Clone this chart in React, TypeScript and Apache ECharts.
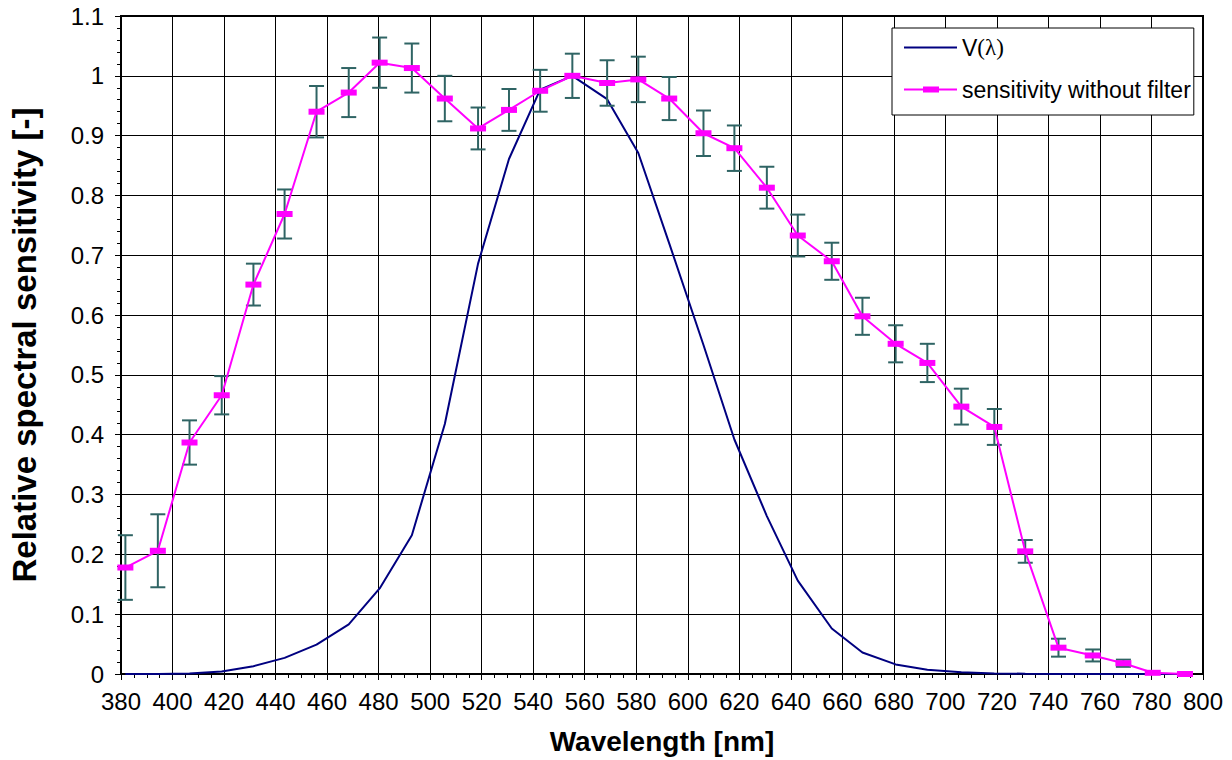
import React, { useEffect, useRef } from "react";
import * as echarts from "echarts";

const wavelengths = [381.7, 394.3, 406.6, 419.1, 431.4, 443.5, 455.9, 468.4, 480.4, 492.9, 505.7, 518.6, 530.6, 542.7, 555.2, 568.7, 580.8, 592.8, 606.1, 618.1, 630.7, 642.7, 655.9, 667.8, 680.7, 693.0, 706.2, 719.0, 731.0, 743.9, 757.2, 769.1, 780.5, 793.0];
const sensitivity = [0.178, 0.206, 0.387, 0.466, 0.651, 0.769, 0.940, 0.972, 1.022, 1.013, 0.962, 0.912, 0.943, 0.975, 1.0, 0.988, 0.994, 0.962, 0.904, 0.879, 0.813, 0.733, 0.690, 0.598, 0.552, 0.520, 0.447, 0.413, 0.205, 0.044, 0.031, 0.018, 0.002, 0.0];
const sensitivityError = [0.054, 0.061, 0.037, 0.032, 0.035, 0.041, 0.043, 0.041, 0.042, 0.041, 0.038, 0.035, 0.035, 0.035, 0.037, 0.038, 0.038, 0.036, 0.038, 0.038, 0.035, 0.035, 0.031, 0.031, 0.031, 0.032, 0.030, 0.030, 0.019, 0.015, 0.010, 0.006, 0, 0];
const vLambda = [0.0001, 0.0002, 0.0008, 0.004, 0.013, 0.027, 0.049, 0.083, 0.143, 0.232, 0.418, 0.686, 0.861, 0.977, 1.0, 0.961, 0.871, 0.72, 0.55, 0.392, 0.264, 0.156, 0.076, 0.036, 0.016, 0.007, 0.003, 0.001, 0.0005, 0.0002, 0.0001, 0, 0, 0];

const seriesNames = ["V(λ)", "sensitivity without filter"];
const xAxisTitle = "Wavelength [nm]";
const yAxisTitle = "Relative spectral sensitivity [-]";

const FONT = "'Liberation Sans', Arial, sans-serif";

export default function App() {
  const ref = useRef<HTMLDivElement>(null);
  useEffect(() => {
    document.body.style.margin = "0";
    const chart = echarts.init(ref.current!, null, { renderer: "svg" });
    const vData = wavelengths.map((w, i) => [w, vLambda[i]]);
    const sData = wavelengths.map((w, i) => [w, sensitivity[i]]);
    const eData = wavelengths.map((w, i) => [w, sensitivity[i], sensitivityError[i]]);
    const errColor = "#2F6464";
    chart.setOption({
      animation: false,
      backgroundColor: "#fff",
      grid: {
        left: 118,
        right: 29,
        top: 16,
        bottom: 85,
        show: true,
        borderColor: "#000",
        borderWidth: 2,
        backgroundColor: "transparent",
      },
      legend: {
        data: [
          { name: seriesNames[0], icon: "path://M0,2.5 L53,2.5 L53,4.5 L0,4.5 Z" },
          {
            name: seriesNames[1],
            icon: "path://M0,2.5 L19,2.5 L19,0.5 L35,0.5 L35,2.5 L53,2.5 L53,4.5 L35,4.5 L35,6.5 L19,6.5 L19,4.5 L0,4.5 Z",
          },
        ],
        orient: "vertical",
        left: 892,
        top: 28,
        padding: [8, 3, 14, 12],
        itemWidth: 53,
        itemHeight: 7,
        itemGap: 19,
        borderColor: "#000",
        borderWidth: 1,
        backgroundColor: "#fff",
        formatter: (name: string) => (name === "V(λ)" ? "V{s|(λ)}" : name),
        textStyle: {
          fontFamily: FONT,
          fontSize: 23,
          color: "#000",
          rich: {
            s: { fontFamily: "'Liberation Serif', 'Times New Roman', serif", fontSize: 23, color: "#000" },
          },
        },
      },
      xAxis: {
        type: "value",
        min: 380,
        max: 800,
        interval: 20,
        name: xAxisTitle,
        nameLocation: "middle",
        nameGap: 53,
        nameTextStyle: { fontFamily: FONT, fontSize: 28, fontWeight: "bold", color: "#000" },
        axisLine: { show: true, lineStyle: { color: "#000", width: 1 } },
        axisTick: { show: true, length: 6, lineStyle: { color: "#000" } },
        minorTick: { show: true, splitNumber: 4, length: 4, lineStyle: { color: "#000" } },
        axisLabel: { fontFamily: FONT, fontSize: 24, color: "#000", margin: 15 },
        splitLine: { show: true, lineStyle: { color: "#000", width: 1 } },
      },
      yAxis: {
        type: "value",
        min: 0,
        max: 1.1,
        interval: 0.1,
        name: yAxisTitle,
        nameLocation: "middle",
        nameGap: 80,
        nameTextStyle: { fontFamily: FONT, fontSize: 33, fontWeight: "bold", color: "#000" },
        axisLine: { show: true, lineStyle: { color: "#000", width: 1 } },
        axisTick: { show: true, length: 6, lineStyle: { color: "#000" } },
        minorTick: { show: true, splitNumber: 5, length: 4, lineStyle: { color: "#000" } },
        axisLabel: {
          fontFamily: FONT,
          fontSize: 24,
          color: "#000",
          margin: 17,
          formatter: (v: number) => String(Math.round(v * 10) / 10),
        },
        splitLine: { show: true, lineStyle: { color: "#000", width: 1 } },
      },
      series: [
        {
          name: seriesNames[0],
          type: "line",
          data: vData,
          showSymbol: false,
          symbol: "none",
          lineStyle: { color: "#000080", width: 2 },
          itemStyle: { color: "#000080" },
          z: 2,
        },
        {
          name: "errors",
          type: "custom",
          data: eData,
          z: 3,
          renderItem: (params: any, api: any) => {
            const x = api.value(0);
            const y = api.value(1);
            const e = api.value(2);
            if (!e) return { type: "group", children: [] };
            const top = api.coord([x, y + e]);
            const bot = api.coord([x, y - e]);
            const hw = 7.5;
            const style = { stroke: errColor, lineWidth: 2 };
            return {
              type: "group",
              children: [
                { type: "line", shape: { x1: top[0], y1: top[1], x2: bot[0], y2: bot[1] }, style },
                { type: "line", shape: { x1: top[0] - hw, y1: top[1], x2: top[0] + hw, y2: top[1] }, style },
                { type: "line", shape: { x1: bot[0] - hw, y1: bot[1], x2: bot[0] + hw, y2: bot[1] }, style },
              ],
            };
          },
        },
        {
          name: seriesNames[1],
          type: "line",
          data: sData,
          symbol: "rect",
          symbolSize: [16, 6],
          lineStyle: { color: "#FF00FF", width: 2 },
          itemStyle: { color: "#FF00FF" },
          z: 4,
        },
      ],
    });
    return () => chart.dispose();
  }, []);
  return <div ref={ref} style={{ width: 1232, height: 760 }} />;
}
